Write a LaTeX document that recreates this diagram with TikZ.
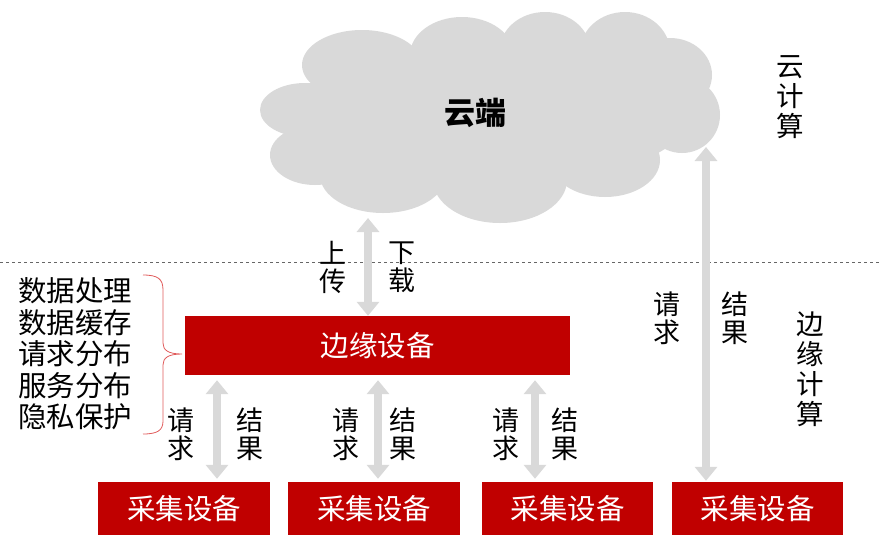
\documentclass[tikz,border=0pt]{standalone}
\usepackage{fontspec}
\setmainfont{Noto Sans CJK SC}
\usetikzlibrary{arrows.meta,calc}
\definecolor{boxred}{HTML}{C00000}
\definecolor{cloudgray}{HTML}{D9D9D9}
\definecolor{bracered}{HTML}{E05A5A}
\begin{document}
\begin{tikzpicture}[x=1pt,y=-1pt,
  redbox/.style={fill=boxred,draw=none,text=white,inner sep=0pt,font=\fontsize{28.5}{30}\selectfont},
  bigarrow/.style={draw=cloudgray,line width=8pt,{Triangle[width=22pt,length=14pt]}-{Triangle[width=22pt,length=14pt]}},
  lbl/.style={align=center,inner sep=0pt,font=\fontsize{27}{28}\selectfont},
  sidelbl/.style={align=center,inner sep=0pt,font=\fontsize{27.5}{30}\selectfont},
  lefttxt/.style={align=left,inner sep=0pt,font=\fontsize{28.5}{31.5}\selectfont}]
\useasboundingbox (0,0) rectangle (880,536);
% cloud
\begin{scope}[fill=cloudgray]
\fill (490,115) ellipse [x radius=200, y radius=70];
\fill (305,110) ellipse [x radius=45, y radius=27];
\fill (362,65) ellipse [x radius=60, y radius=35];
\fill (462,55) ellipse [x radius=52, y radius=38];
\fill (545,50) ellipse [x radius=45, y radius=38];
\fill (625,52) ellipse [x radius=45, y radius=40];
\fill (670,75) ellipse [x radius=42, y radius=37];
\fill (682,115) ellipse [x radius=38, y radius=38];
\fill (605,160) ellipse [x radius=55, y radius=37];
\fill (500,180) ellipse [x radius=67, y radius=43];
\fill (383,175) ellipse [x radius=63, y radius=38];
\fill (315,155) ellipse [x radius=45, y radius=30];
\end{scope}
\node[inner sep=0pt,font=\fontsize{31}{34}\selectfont\bfseries] (cloud) at (475,113) {云端};
\coordinate (cloudbot) at (368,218);
\coordinate (cloudright) at (706,147);
% dashed separator
\draw[gray!80!black,dashed,line width=0.6pt] (0,262) -- (880,262);
% boxes
\node[redbox,minimum width=385pt,minimum height=59pt] (edge) at (377.5,345.5) {边缘设备};
\node[redbox,minimum width=172pt,minimum height=53pt] (c1) at (184,508.5) {采集设备};
\node[redbox,minimum width=172pt,minimum height=53pt] (c2) at (374,508.5) {采集设备};
\node[redbox,minimum width=171pt,minimum height=53pt] (c3) at (567.5,508.5) {采集设备};
\node[redbox,minimum width=171pt,minimum height=53pt] (c4) at (757.5,508.5) {采集设备};
% arrows
\draw[bigarrow] (cloudbot) -- (cloudbot |- edge.north);
\draw[bigarrow] ($(edge.south -| 217,0)+(0,5)$) -- ($(c1.north -| 217,0)+(0,-3)$);
\draw[bigarrow] ($(edge.south -| 378,0)+(0,5)$) -- ($(c2.north -| 378,0)+(0,-3)$);
\draw[bigarrow] ($(edge.south -| 535,0)+(0,5)$) -- ($(c3.north -| 535,0)+(0,-3)$);
\draw[bigarrow] (cloudright) -- ($(c4.north -| cloudright)+(0,-1)$);
% arrow labels
\node[lbl] (up) at (333,267) {上\\传};
\node[lbl] (down) at (402,267) {下\\载};
\node[lbl] (rq1) at (181,434) {请\\求};
\node[lbl] (rs1) at (250,434) {结\\果};
\node[lbl] (rq2) at (346,434) {请\\求};
\node[lbl] (rs2) at (403,434) {结\\果};
\node[lbl] (rq3) at (506,434) {请\\求};
\node[lbl] (rs3) at (565,434) {结\\果};
\node[lbl] (rq4) at (667,318) {请\\求};
\node[lbl] (rs4) at (735,318) {结\\果};
% side labels
\node[sidelbl] (cc) at (790,97) {云\\计\\算};
\node[sidelbl] (ec) at (810,369) {边\\缘\\计\\算};
% left functions
\node[lefttxt,anchor=west] (funcs) at (18,354) {数据处理\\数据缓存\\请求分布\\服务分布\\隐私保护};
% brace
\coordinate (bracetip) at (182,354);
\draw[bracered,line width=0.8pt] (143,275) .. controls (158,275) and (163,279) .. (163,290)
  -- (163,343) .. controls (163,350) and (168,354) .. (bracetip)
  .. controls (168,354) and (163,358) .. (163,365)
  -- (163,421) .. controls (163,430) and (158,434) .. (143,434);
\end{tikzpicture}
\end{document}
